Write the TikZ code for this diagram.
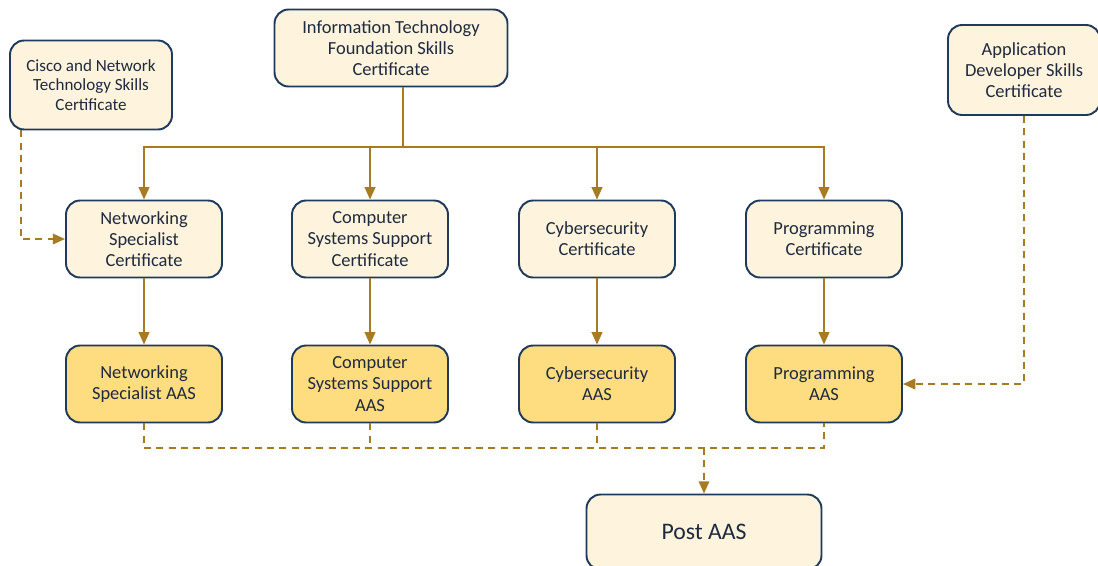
\documentclass[tikz,border=0pt]{standalone}
\usepackage{fontspec}
\setmainfont{Carlito}
\usetikzlibrary{arrows.meta}

\definecolor{cream}{HTML}{FEF3DC}
\definecolor{golden}{HTML}{FEDC80}
\definecolor{navy}{HTML}{1F3A5C}
\definecolor{ink}{HTML}{1E2A3E}
\definecolor{bronze}{HTML}{A87B22}

\begin{document}
\begin{tikzpicture}[x=0.02cm,y=-0.02cm,
    box/.style={draw=navy,line width=1.1pt,rounded corners=8pt,fill=cream,
        align=center,text=ink,font=\fontsize{10.5}{12}\selectfont,
        minimum width=3.12cm,minimum height=1.54cm,inner sep=0pt},
    aasbox/.style={box,fill=golden},
    link/.style={draw=bronze,line width=1.1pt,-{Triangle[length=7pt,width=6pt]}},
    optlink/.style={link,dash pattern=on 4pt off 3pt}]
\useasboundingbox (0,0) rectangle (1098,565);

% Top certificates
\node[box,minimum width=4.66cm] (itf) at (391,48)
    {Information Technology\\Foundation Skills\\Certificate};
\node[box,minimum width=3.24cm,minimum height=1.78cm,
    font=\fontsize{9.7}{11}\selectfont] (cisco) at (91,85)
    {Cisco and Network\\Technology Skills\\Certificate};
\node[box,minimum width=3.04cm,minimum height=1.8cm] (appdev) at (1024,70)
    {Application\\Developer Skills\\Certificate};

% Certificate row
\node[box] (netc) at (144,239) {Networking\\Specialist\\Certificate};
\node[box] (csc) at (370,239) {Computer\\Systems Support\\Certificate};
\node[box] (cyc) at (597,239) {Cybersecurity\\Certificate};
\node[box] (progc) at (824,239) {Programming\\Certificate};

% AAS row
\node[aasbox] (neta) at (144,384) {Networking\\Specialist AAS};
\node[aasbox] (csa) at (370,384) {Computer\\Systems Support\\AAS};
\node[aasbox] (cya) at (597,384) {Cybersecurity\\AAS};
\node[aasbox] (proga) at (824,384) {Programming\\AAS};

\node[box,minimum width=4.7cm,minimum height=1.5cm,
    font=\fontsize{13.5}{15}\selectfont] (post) at (704,532) {Post AAS};

% Solid links
\coordinate (split) at (403,147);
\draw[bronze,line width=1.1pt] (itf.south -| split) -- (split);
\draw[link] (split) -| (netc);
\draw[link] (split) -| (csc);
\draw[link] (split) -| (cyc);
\draw[link] (split) -| (progc);
\draw[link] (netc) -- (neta);
\draw[link] (csc) -- (csa);
\draw[link] (cyc) -- (cya);
\draw[link] (progc) -- (proga);

% Dashed links
\draw[optlink] ([xshift=-1.4cm]cisco.south) |- (netc);
\draw[optlink] (appdev) |- (proga);
\coordinate (join) at (704,448);
\begin{scope}[draw=bronze,line width=1.1pt,dash pattern=on 4pt off 3pt]
    \draw (neta.south) |- (proga.south |- join) -- (proga.south);
    \draw (csa.south) -- (csa.south |- join);
    \draw (cya.south) -- (cya.south |- join);
\end{scope}
\draw[optlink] (join) -- (post);

\end{tikzpicture}
\end{document}
